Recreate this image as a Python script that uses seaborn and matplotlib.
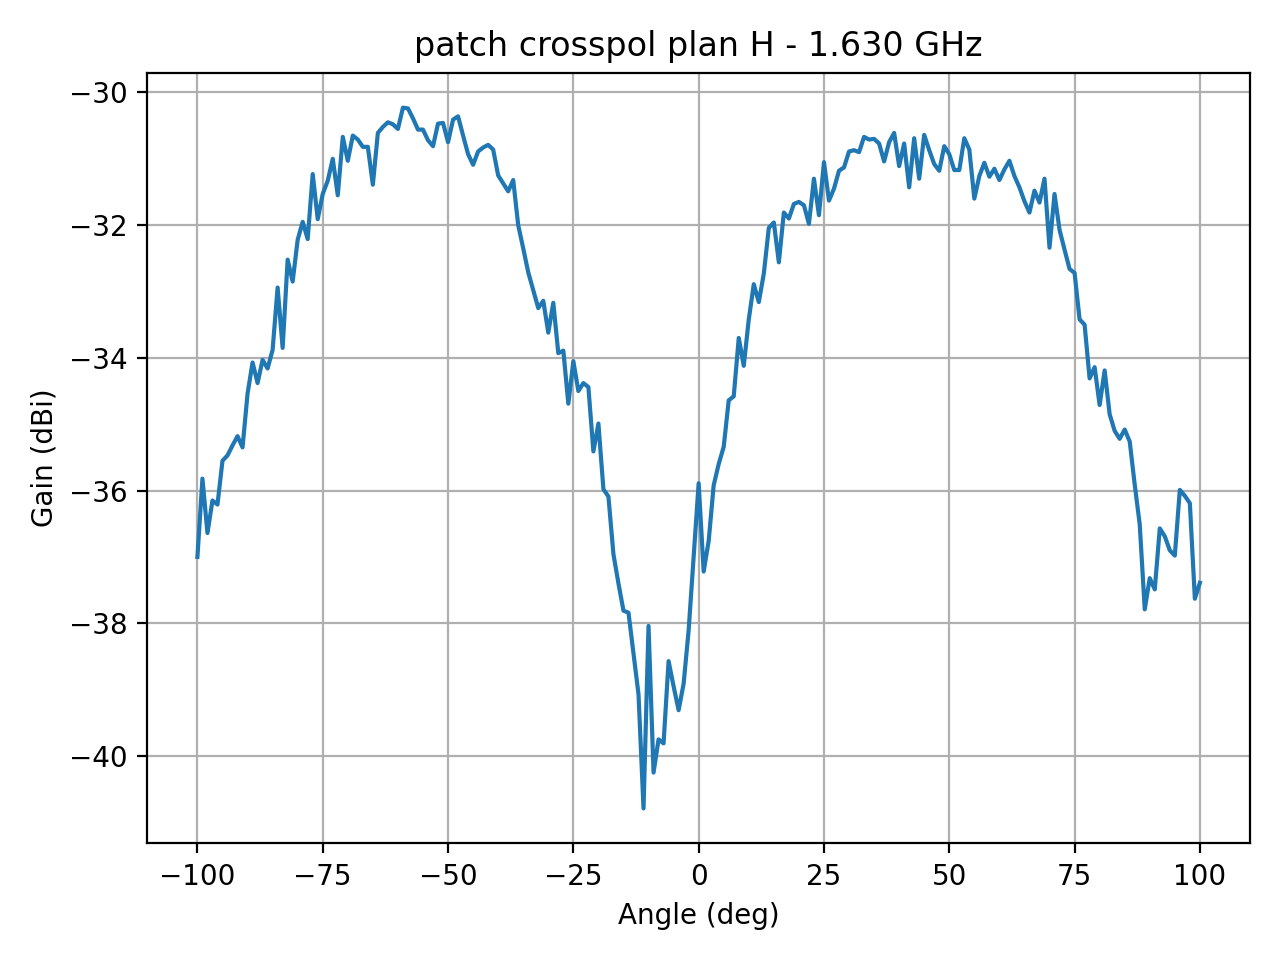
import numpy as np
import pandas as pd
import matplotlib
matplotlib.use("Agg")
import matplotlib.pyplot as plt
import seaborn as sns

angles = list(range(-100, 101))
gain = [
    -37.0, -35.82, -36.64, -36.15, -36.21, -35.55, -35.47, -35.32, -35.18, -35.35,
    -34.54, -34.07, -34.38, -34.03, -34.16, -33.88, -32.94, -33.85, -32.52, -32.85,
    -32.22, -31.95, -32.21, -31.23, -31.91, -31.53, -31.33, -31.0, -31.55, -30.67,
    -31.03, -30.65, -30.71, -30.82, -30.82, -31.39, -30.61, -30.52, -30.45, -30.48,
    -30.55, -30.23, -30.24, -30.39, -30.56, -30.56, -30.72, -30.81, -30.47, -30.46,
    -30.75, -30.41, -30.36, -30.65, -30.93, -31.09, -30.89, -30.83, -30.79, -30.86,
    -31.25, -31.37, -31.49, -31.32, -32.0, -32.35, -32.71, -32.98, -33.25, -33.14,
    -33.62, -33.17, -33.93, -33.89, -34.69, -34.05, -34.5, -34.38, -34.44, -35.41,
    -34.99, -35.98, -36.09, -36.96, -37.4, -37.81, -37.84, -38.45, -39.07, -40.79,
    -38.04, -40.25, -39.75, -39.81, -38.57, -38.95, -39.31, -38.91, -38.11, -37.0,
    -35.89, -37.22, -36.76, -35.92, -35.6, -35.34, -34.64, -34.58, -33.7, -34.12,
    -33.42, -32.89, -33.16, -32.73, -32.04, -31.96, -32.56, -31.81, -31.9, -31.68,
    -31.65, -31.7, -31.98, -31.3, -31.85, -31.05, -31.63, -31.45, -31.18, -31.13,
    -30.89, -30.87, -30.9, -30.67, -30.71, -30.7, -30.77, -31.04, -30.75, -30.61,
    -31.11, -30.77, -31.43, -30.69, -31.3, -30.64, -30.87, -31.08, -31.18, -30.81,
    -30.93, -31.17, -31.17, -30.69, -30.86, -31.6, -31.26, -31.06, -31.27, -31.15,
    -31.32, -31.16, -31.03, -31.26, -31.43, -31.64, -31.81, -31.48, -31.66, -31.3,
    -32.34, -31.53, -32.07, -32.37, -32.66, -32.72, -33.42, -33.5, -34.31, -34.14,
    -34.71, -34.19, -34.85, -35.1, -35.22, -35.08, -35.26, -35.91, -36.51, -37.79,
    -37.32, -37.49, -36.57, -36.69, -36.9, -36.98, -35.99, -36.08, -36.19, -37.63,
    -37.39,
]

df = pd.DataFrame({"angle": angles, "gain": gain})

fig, ax = plt.subplots(figsize=(6.4, 4.8), dpi=200)
sns.lineplot(data=df, x="angle", y="gain", ax=ax, color="#1f77b4", linewidth=1.5)
ax.grid(True, color="#b0b0b0", linewidth=0.8)
ax.set_axisbelow(True)
ax.set_title("patch crosspol plan H - 1.630 GHz")
ax.set_xlabel("Angle (deg)")
ax.set_ylabel("Gain (dBi)")
fig.tight_layout()
fig.savefig("out.png", dpi=200)
